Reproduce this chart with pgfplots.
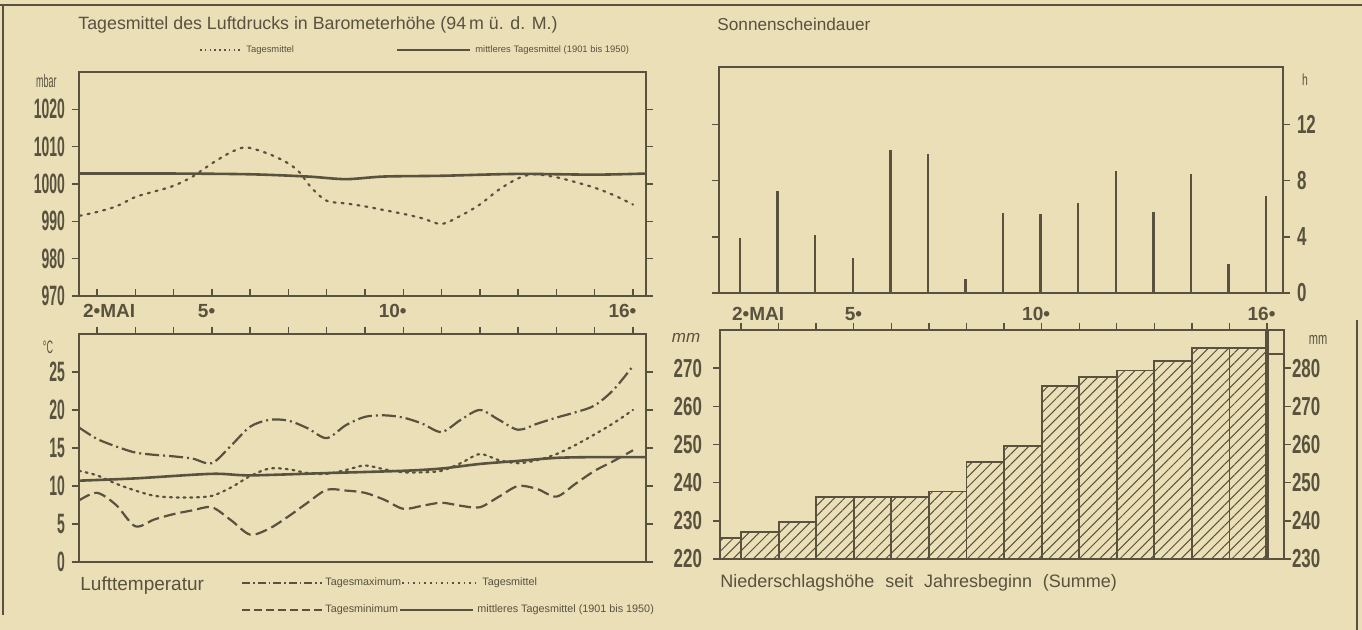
\documentclass[border=0pt]{standalone}
\usepackage{fontspec}
\usepackage{pgfplots}
\pgfplotsset{compat=1.18}
\usetikzlibrary{patterns.meta}
\setmainfont{Liberation Sans}
\newfontfamily\cond[FakeStretch=0.5]{Liberation Sans}
\newfontfamily\condb[FakeStretch=0.65]{Liberation Sans}
\definecolor{paper}{RGB}{235,223,184}
\definecolor{ink}{RGB}{88,82,62}

\pgfplotsset{
  wx/.style={
    scale only axis, anchor=north west,
    axis line style={ink, line width=1pt},
    tick style={ink, line width=0.7pt},
    major tick length=3.5pt,
    tick align=outside,
    /pgf/number format/1000 sep={},
    /pgf/number format/assume math mode=true,
    ticklabel style={text=ink},
  },
  daylabels/.style={
    xtick={2,...,16},
    xticklabels={{\llap{2}•\rlap{MAI}},{},{},{\llap{5}•},{},{},{},{},{\llap{10}•},{},{},{},{},{},{\llap{16}•}},
    xticklabel style={font=\bfseries\fontsize{9.5}{10}\selectfont},
  },
  nodaylabels/.style={
    xtick={2,...,16},
    xticklabels={{},{},{},{},{},{},{},{},{},{},{},{},{},{},{}},
  },
}

\begin{document}
\begin{tikzpicture}[x=0.5pt,y=-0.5pt]
\path[use as bounding box, fill=paper] (0,0) rectangle (1362,630);
\draw[ink, line width=1pt] (0,5) -- (1362,5);
\draw[ink, line width=1pt] (3,5) -- (3,615);
\draw[ink, line width=1pt] (1357,320) -- (1357,630);

% ---- headings and legends
\node[anchor=west, text=ink, font=\fontsize{8.9}{10}\selectfont, inner sep=0] at (78,25)
  {Tagesmittel des Luftdrucks in Barometerhöhe (94\,m ü. d. M.)};
\draw[ink, line width=0.8pt, dash pattern=on 0.8pt off 1.6pt] (200,50) -- (242,50);
\node[anchor=west, text=ink, font=\fontsize{4.7}{5}\selectfont, inner sep=0] at (246,50) {Tagesmittel};
\draw[ink, line width=0.8pt] (397,50) -- (470,50);
\node[anchor=west, text=ink, font=\fontsize{4.7}{5}\selectfont, inner sep=0] at (475,50) {mittleres Tagesmittel (1901 bis 1950)};

\node[anchor=west, text=ink, font=\fontsize{8.6}{10}\selectfont, inner sep=0] at (717,24) {Sonnenscheindauer};

\node[anchor=east, text=ink, font=\cond\fontsize{9}{10}\selectfont, inner sep=0] at (57,81) {mbar};
\node[text=ink, font=\cond\fontsize{9}{10}\selectfont, inner sep=0] at (48,347) {°C};
\node[text=ink, font=\condb\fontsize{8}{10}\selectfont, inner sep=0] at (1305,80) {h};
\node[text=ink, font=\itshape\fontsize{8.5}{10}\selectfont, inner sep=0] at (686,338) {mm};
\node[text=ink, font=\condb\fontsize{8.5}{10}\selectfont, inner sep=0] at (1318,340) {mm};

\node[anchor=west, text=ink, font=\fontsize{9.5}{10}\selectfont, inner sep=0] at (80,586) {Lufttemperatur};
\draw[ink, line width=0.9pt, dash pattern=on 4pt off 1.5pt on 0.8pt off 1.5pt] (242,583) -- (322,583);
\node[anchor=west, text=ink, font=\fontsize{5.4}{6}\selectfont, inner sep=0] at (325,583) {Tagesmaximum};
\draw[ink, line width=0.9pt, dash pattern=on 0.8pt off 2pt] (402,583) -- (480,583);
\node[anchor=west, text=ink, font=\fontsize{5.4}{6}\selectfont, inner sep=0] at (482,583) {Tagesmittel};
\draw[ink, line width=0.9pt, dash pattern=on 4pt off 2pt] (242,610) -- (322,610);
\node[anchor=west, text=ink, font=\fontsize{5.4}{6}\selectfont, inner sep=0] at (325,610) {Tagesminimum};
\draw[ink, line width=0.9pt] (400,610) -- (473,610);
\node[anchor=west, text=ink, font=\fontsize{5.4}{6}\selectfont, inner sep=0] at (477,610) {mittleres Tagesmittel (1901 bis 1950)};

\node[anchor=west, text=ink, font=\fontsize{9}{10}\selectfont, inner sep=0] at (720,583)
  {Niederschlagshöhe\hspace{0.6em}seit\hspace{0.6em}Jahresbeginn\hspace{0.6em}(Summe)};

% ---- air pressure
\begin{axis}[wx, at={(39.5pt,-36pt)}, width=283.5pt, height=112pt,
  xmin=1.53, xmax=16.34, ymin=970, ymax=1030,
  ytick={970,980,...,1020},
  yticklabel style={font=\cond\bfseries\fontsize{14}{14}\selectfont},
  daylabels, xtick pos=left, x tick style={yshift=3.5pt},
  xticklabel style={yshift=3pt}]
\addplot[ink, line width=1.1pt, dash pattern=on 1pt off 3pt, line cap=round, smooth] coordinates {
  (1.55,991.5) (2,992.5) (2.5,994) (3,996.5) (3.5,998) (4,999.5) (4.5,1002) (5,1005.5)
  (5.5,1008.5) (5.9,1009.8) (6.5,1008) (7,1005.5) (7.3,1003) (7.6,999) (8,995.5)
  (8.5,994.8) (9,994) (9.5,993) (10,992) (10.5,990.8) (11,989.3) (11.5,991.5) (12,994.5)
  (12.5,998.5) (13,1001.5) (13.4,1002.6) (14,1001.8) (14.5,1000.5) (15,999) (15.5,997) (16,994.5)};
\addplot[ink, line width=1.3pt, smooth] coordinates {
  (1.53,1002.8) (4,1002.8) (6,1002.6) (7.5,1002) (8.5,1001.3) (9.5,1002) (11,1002.2)
  (13,1002.7) (15,1002.5) (16.34,1002.8)};
\end{axis}

% ---- air temperature
\begin{axis}[wx, at={(39.5pt,-167pt)}, width=283.5pt, height=114pt,
  xmin=1.53, xmax=16.34, ymin=0, ymax=30,
  ytick={0,5,...,25},
  yticklabel style={font=\cond\bfseries\fontsize{14}{14}\selectfont},
  nodaylabels, xtick pos=right]
\addplot[ink, line width=1.1pt, smooth, dash pattern=on 7pt off 2pt on 1pt off 2pt] coordinates {
  (1.53,17.7) (2,16.2) (2.5,15.2) (3,14.4) (3.5,14.1) (4,13.9) (4.5,13.6) (5,13.0) (5.5,15.3)
  (6,17.8) (6.5,18.7) (7,18.6) (7.5,17.6) (8,16.3) (8.5,18.0) (9,19.1) (9.5,19.3) (10,19.0)
  (10.5,18.2) (11,17.1) (11.5,18.7) (12,20.0) (12.5,18.7) (13,17.4) (13.5,18.2) (14,19.0)
  (14.5,19.7) (15,20.6) (15.5,22.7) (16,25.8)};
\addplot[ink, line width=1.1pt, smooth, dash pattern=on 6pt off 2.5pt] coordinates {
  (1.53,8.1) (2,9.1) (2.5,7.5) (3,4.7) (3.5,5.6) (4,6.3) (4.5,6.8) (5,7.2) (5.5,5.5) (6,3.6)
  (6.5,4.4) (7,6.0) (7.5,7.8) (8,9.5) (8.5,9.4) (9,9.1) (9.5,8.2) (10,7.0) (10.5,7.4) (11,7.8)
  (11.5,7.4) (12,7.2) (12.5,8.6) (13,10.0) (13.5,9.6) (14,8.6) (14.5,10.3) (15,12.0) (15.5,13.3)
  (16,14.7)};
\addplot[ink, line width=1.1pt, smooth, dash pattern=on 1pt off 2.4pt, line cap=round] coordinates {
  (1.53,12.0) (2,11.4) (2.5,10.3) (3,9.4) (3.5,8.7) (4,8.5) (4.5,8.5) (5,8.7) (5.5,9.8) (6,11.3)
  (6.5,12.3) (7,12.2) (7.5,11.7) (8,11.6) (8.5,12.1) (9,12.7) (9.5,12.2) (10,11.8) (10.5,11.8)
  (11,12.0) (11.5,13.0) (12,14.2) (12.5,13.4) (13,13.0) (13.5,13.4) (14,14.2) (14.5,15.4)
  (15,16.8) (15.5,18.3) (16,20.0)};
\addplot[ink, line width=1.3pt, smooth] coordinates {
  (1.53,10.7) (3,11.0) (5,11.6) (6,11.4) (8,11.7) (10,12.0) (11,12.3) (12,12.9) (13,13.3)
  (14,13.7) (15,13.8) (16.34,13.8)};
\end{axis}

% ---- sunshine duration
\begin{axis}[wx, at={(359.5pt,-33.5pt)}, width=282pt, height=113pt,
  xmin=1.44, xmax=16.45, ymin=0, ymax=16.1,
  ytick={0,4,8,12}, yticklabel pos=right,
  yticklabel style={font=\condb\bfseries\fontsize{13}{13}\selectfont},
  daylabels, x tick style={draw=none}, xticklabel style={xshift=3pt}]
\addplot[ycomb, ink, line width=1.2pt] coordinates {
  (2,3.9) (3,7.3) (4,4.1) (5,2.5) (6,10.2) (7,9.9) (8,1.0) (9,5.7) (10,5.6)
  (11,6.4) (12,8.7) (13,5.8) (14,8.5) (15,2.1) (16,6.9)};
\end{axis}

% ---- precipitation since start of year
\begin{axis}[wx, at={(360pt,-165pt)}, width=282pt, height=114.5pt,
  xmin=1.44, xmax=16.45, ymin=220, ymax=280,
  ytick={220,230,...,270}, ytick pos=left,
  yticklabel style={font=\condb\bfseries\fontsize{13}{13}\selectfont, xshift=-2pt},
  nodaylabels, xtick pos=right]
\addplot[ybar interval, draw=ink, line width=0.9pt,
  pattern={Lines[angle=45,distance=3.6pt,line width=0.5pt]}, pattern color=ink] coordinates {
  (1.44,225.5) (2,227.1) (3,229.6) (4,236.3) (5,236.3) (6,236.3) (7,237.7) (8,245.4)
  (9,249.6) (10,265.3) (11,267.6) (12,269.4) (13,271.8) (14,275.3) (15,275.3) (16,275.3)};
\addplot[ink, line width=1.6pt] coordinates {(16,220) (16,280)};
\addplot[ink, line width=0.9pt] coordinates {(16,273.7) (16.45,273.7)};
\end{axis}
\begin{axis}[wx, at={(360pt,-165pt)}, width=282pt, height=114.5pt,
  xmin=1.44, xmax=16.45, ymin=230, ymax=290,
  axis x line=none, axis y line*=right,
  ytick={230,240,...,280},
  yticklabel style={font=\condb\bfseries\fontsize{13}{13}\selectfont, xshift=-3pt}]
\end{axis}
\end{tikzpicture}
\end{document}
